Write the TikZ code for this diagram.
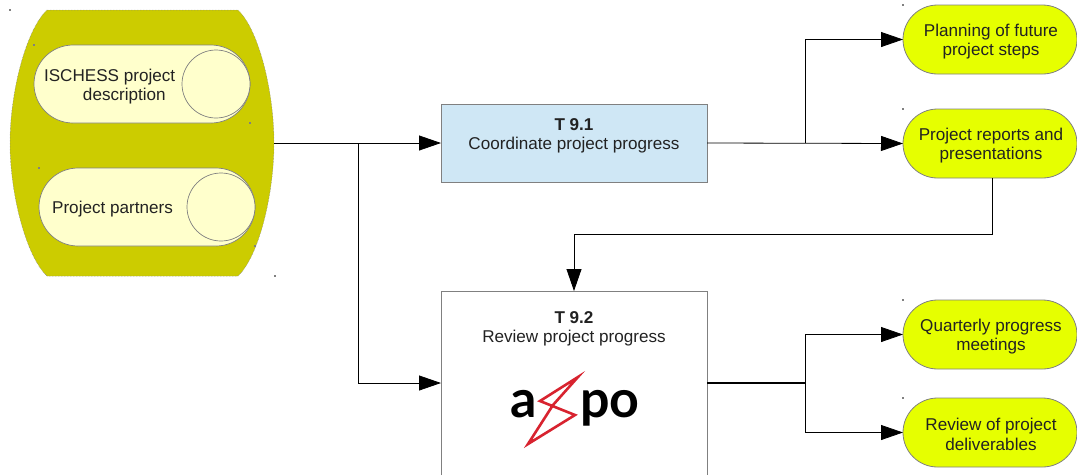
\documentclass[tikz,border=0pt]{standalone}
\usepackage{fontspec}
\setmainfont{Liberation Sans}
\newfontfamily\logofont{Lato}
\usetikzlibrary{arrows.meta,shapes.misc,calc}
\definecolor{olivefill}{HTML}{CCCC00}
\definecolor{creamfill}{HTML}{FFFFCC}
\definecolor{limefill}{HTML}{E6FF00}
\definecolor{bluefill}{HTML}{CFE7F5}
\definecolor{edgegrey}{HTML}{808080}
\definecolor{textdark}{HTML}{222222}
\definecolor{boltred}{HTML}{D8232F}
\tikzset{
  x=1pt,y=-1pt,
  every node/.style={font=\fontsize{17.1}{19.3}\selectfont,text=textdark,align=center,inner sep=0pt,outer sep=0pt},
  drum/.style={rounded rectangle,draw=edgegrey,fill=creamfill,line width=.7pt,minimum width=216pt,minimum height=78pt},
  drumend/.style={circle,draw=edgegrey,fill=creamfill,line width=.7pt,minimum size=68pt},
  outcome/.style={rounded rectangle,draw=edgegrey,fill=limefill,line width=.8pt,minimum width=174pt,minimum height=69pt},
  taskbox/.style={draw=edgegrey,line width=.7pt,minimum width=266pt},
  link/.style={draw=black,line width=.8pt},
  flow/.style={link,-{Triangle[length=22pt,width=15pt]}},
  tick/.style={fill=edgegrey},
  logotext/.style={font=\fontsize{52}{52}\selectfont\logofont\bfseries,text=black,anchor=base},
}
\def\barrel{(47,10) -- (238,10) .. controls (259,30) and (274,92) .. (274,143) .. controls (274,194) and (259,256) .. (238,276) -- (47,276) .. controls (26,256) and (10,194) .. (10,143) .. controls (10,92) and (26,30) .. (47,10) -- cycle}
\begin{document}
\begin{tikzpicture}
\useasboundingbox (0,0) rectangle (1077,475);
% input container
\fill[olivefill] \barrel;
\draw[edgegrey,densely dotted,line width=.5pt] \barrel;
\node[minimum width=264pt,minimum height=266pt] (inputs) at (142,143) {};
\node[drum] (d1) at (142,84) {};
\node[drumend] (d1e) at (216,84) {};
\node[anchor=north west,align=left] (d1t) at (44,69) {ISCHESS project\\\hspace*{39pt}description};
\node[drum] (d2) at (147,207) {};
\node[drumend] (d2e) at (221,207) {};
\node (d2t) at (112.5,209) {Project partners};
% tasks
\node[taskbox,fill=bluefill,minimum height=78pt] (t1) at (574,143) {};
\node (t1t) at (574,135.5) {\textbf{T 9.1}\\Coordinate project progress};
\fill[white] (441,291) rectangle (707,475);
\draw[edgegrey,line width=.7pt] (441,475) -- (441,291) -- (707,291) -- (707,475);
\node[minimum width=266pt,minimum height=184pt] (t2) at (574,383) {};
\node (t2t) at (574,328.5) {\textbf{T 9.2}\\Review project progress};
% logo
\node[logotext] (la) at (524,417) {a};
\node[logotext] (lb) at (610,417) {po};
\draw[boltred,line width=2.6pt,line join=miter] (578,377) -- (540,401) -- (575,415) -- (528,444) -- (553,405) -- cycle;
% outcomes
\node[outcome] (o1) at (990,39.5) {};
\node (o1t) at (991,41.5) {Planning of future\\project steps};
\node[outcome] (o2) at (990,143.5) {};
\node (o2t) at (991,145.5) {Project reports and\\presentations};
\node[outcome] (o3) at (990,334.5) {};
\node (o3t) at (991,336.5) {Quarterly progress\\meetings};
\node[outcome] (o4) at (990,432.5) {};
\node (o4t) at (991,434.5) {Review of project\\deliverables};
% connectors
\draw[flow] (inputs.east) -- (t1.west);
\draw[flow] ($(inputs.east)+(84,0)$) |- (t2.west);
\draw[flow] (t1.east) -- (o2.west);
\draw[flow] ($(t1.east)+(98,0)$) |- (o1.west);
\draw[flow] ($(o2.south)+(2,0)$) -- ++(0,56.5) -| (t2.north);
\draw[link,line width=1.2pt] (t2.east) -- ++(98,0) coordinate (j);
\draw[flow] (j) |- (o3.west);
\draw[flow] (j) |- (o4.west);
% small marks at the shapes' frame corners
\foreach \p in {(10,10),(34,45),(250,123),(39,168),(255,246),(275,276),(903,5),(903,109),(903,300),(903,398)}
  \fill[tick] \p ++(-.6,-.6) rectangle ++(1.2,1.2);
\end{tikzpicture}
\end{document}
